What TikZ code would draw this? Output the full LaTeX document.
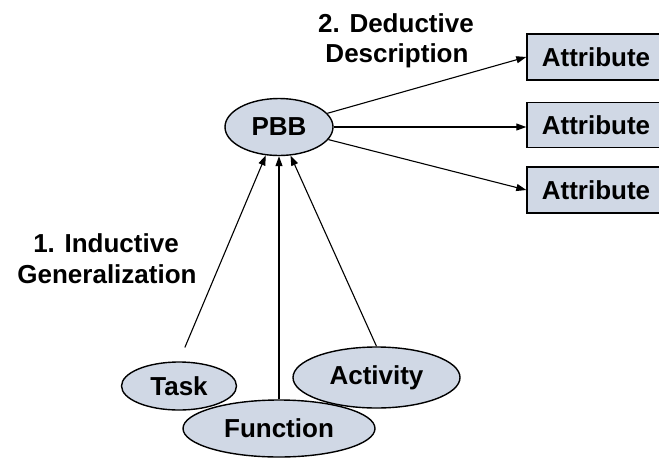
\documentclass[tikz,border=0pt]{standalone}
\usepackage{fontspec}
\setmainfont{Liberation Sans}
\usetikzlibrary{shapes.geometric,arrows.meta}
\definecolor{nodefill}{RGB}{208,216,229}
\begin{document}
\begin{tikzpicture}[x=1pt,y=-1pt,
  every node/.style={font=\fontsize{26}{31}\selectfont\bfseries},
  oval/.style={ellipse,draw=black,line width=1.4pt,fill=nodefill,inner sep=0pt},
  attr/.style={rectangle,draw=black,line width=1.4pt,fill=nodefill,inner sep=0pt,minimum width=138pt,minimum height=46pt},
  conn/.style={line width=1.1pt,-{Triangle[length=10pt,width=7pt]}},
  lbl/.style={anchor=base,inner sep=0pt}]
\useasboundingbox (0,0) rectangle (659,459);
\node[oval,minimum width=108pt,minimum height=57pt] (pbb) at (279,127) {PBB};
\node[attr] (a1) at (596,57) {Attribute};
\node[attr,minimum height=45pt] (a2) at (596,125) {Attribute};
\node[attr] (a3) at (596,190) {Attribute};
\node[oval,minimum width=115pt,minimum height=48pt] (task) at (179,386) {Task};
\node[oval,minimum width=167pt,minimum height=61pt] (act) at (376.5,377.5) {Activity};
\node[oval,minimum width=192pt,minimum height=57pt] (fun) at (279,428.5) {Function};
\node[lbl] (d1) at (396,32) {2. Deductive};
\node[lbl] (d2) at (397,62) {Description};
\node[lbl] (i1) at (106,252) {1. Inductive};
\node[lbl] (i2) at (107,283) {Generalization};
\draw[conn] (pbb) -- (a1.west);
\draw[conn] (pbb.east) -- (pbb.east -| a2.west);
\draw[conn] (pbb) -- (a3.west);
\draw[conn,shorten <=15pt] (task.north) -- (pbb.245);
\draw[conn] (fun.north) -- (pbb.south);
\draw[conn] (act.north) -- (pbb.292);
\end{tikzpicture}
\end{document}
